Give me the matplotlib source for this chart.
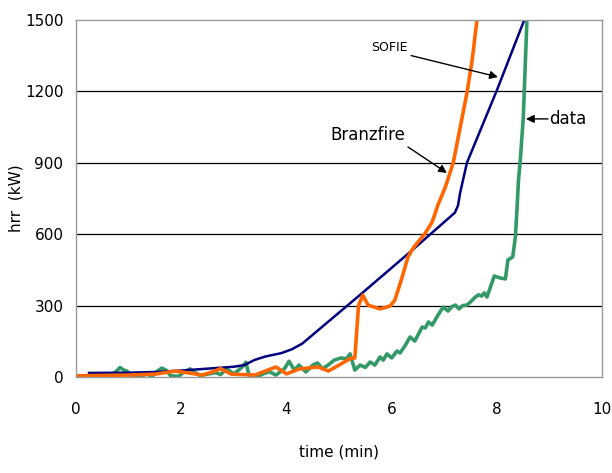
import matplotlib
matplotlib.use("Agg")
import matplotlib.pyplot as plt

plt.rcParams['font.family'] = ['DejaVu Sans']

# measured heat release rate
t_data = [0, 0.3, 0.6, 0.75, 0.84, 0.9, 0.97, 1.05, 1.2, 1.35, 1.45, 1.55, 1.63, 1.72, 1.8,
          1.95, 2.05, 2.17, 2.25, 2.36, 2.5, 2.66, 2.75, 2.86, 3.0, 3.1, 3.17, 3.23, 3.29,
          3.45, 3.58, 3.68, 3.8, 3.96, 4.05, 4.15, 4.24, 4.37, 4.5, 4.59, 4.69, 4.82, 4.91,
          5.04, 5.14, 5.21, 5.3, 5.4, 5.5, 5.59, 5.68, 5.78, 5.84, 5.91, 6.0, 6.1, 6.16,
          6.25, 6.35, 6.44, 6.58, 6.64, 6.7, 6.77, 6.88, 6.98, 7.07, 7.14, 7.21, 7.28, 7.35,
          7.43, 7.52, 7.59, 7.65, 7.71, 7.76, 7.81, 7.88, 7.95, 8.06, 8.16, 8.21, 8.3, 8.35,
          8.38, 8.41, 8.44, 8.5, 8.57]
hrr_data = [0, 2, 5, 20, 40, 30, 25, 5, 2, 12, 3, 25, 37, 28, 5,
            3, 20, 34, 20, 6, 12, 18, 10, 34, 14, 30, 45, 62, 8,
            2, 15, 22, 8, 34, 66, 29, 50, 21, 50, 59, 34, 55, 71,
            80, 76, 97, 29, 50, 40, 63, 50, 84, 71, 97, 80, 109, 101,
            130, 168, 151, 210, 206, 231, 218, 260, 294, 277, 295, 302, 286, 300,
            302, 320, 336, 345, 340, 353, 336, 380, 424, 416, 412, 492, 504, 588,
            702, 828, 900, 1088, 1500]

# SOFIE prediction
t_sofie = [0.25, 1.0, 1.5, 2.0, 2.5, 3.0, 3.2, 3.4, 3.6, 3.9, 4.1, 4.3, 5.4, 6.35, 7.2,
           7.26, 7.3, 7.43, 8.0, 8.52]
hrr_sofie = [17, 18, 21, 27, 35, 43, 50, 72, 86, 100, 116, 140, 345, 525, 690,
             720, 773, 900, 1205, 1500]

# Branzfire prediction
t_branz = [0, 1.0, 1.5, 1.9, 2.2, 2.4, 2.6, 2.75, 2.95, 3.4, 3.6, 3.8, 4.0, 4.25, 4.6,
           4.8, 5.0, 5.2, 5.3, 5.37, 5.45, 5.55, 5.78, 5.97, 6.06, 6.2, 6.31, 6.41, 6.64,
           6.77, 6.88, 7.02, 7.17, 7.43, 7.53, 7.62]
hrr_branz = [5, 8, 12, 25, 15, 8, 22, 35, 12, 8, 25, 42, 13, 34, 42,
             25, 50, 76, 80, 300, 344, 302, 286, 298, 323, 420, 504, 542, 605,
             651, 723, 798, 900, 1193, 1332, 1500]

fig = plt.figure(figsize=(6.12, 4.73), dpi=100)
ax = fig.add_axes([0.124, 0.203, 0.86, 0.755])

ax.plot(t_data, hrr_data, color='#339966', lw=2.6, solid_joinstyle='round')
ax.plot(t_sofie, hrr_sofie, color='#000080', lw=1.8)
ax.plot(t_branz, hrr_branz, color='#FF6600', lw=2.6, solid_joinstyle='round')

ax.set_xlim(0, 10)
ax.set_ylim(0, 1500)
ax.set_xticks([0, 2, 4, 6, 8, 10])
ax.set_yticks([0, 300, 600, 900, 1200, 1500])
ax.tick_params(length=0, labelsize=11)
ax.tick_params(axis='x', pad=18)
ax.tick_params(axis='y', pad=9)
for y in [300, 600, 900, 1200]:
    ax.axhline(y, color='black', lw=0.9, zorder=0)
for s in ax.spines.values():
    s.set_color('#999999')
    s.set_linewidth(1.0)

ax.set_xlabel('time (min)', fontsize=11)
ax.xaxis.set_label_coords(0.5, -0.19)
ax.set_ylabel('hrr  (kW)', fontsize=11)
ax.yaxis.set_label_coords(-0.1, 0.5)

# labels with pointer arrows
arrow = dict(arrowstyle='-|>', color='black', lw=1.0, mutation_scale=12,
             shrinkA=0, shrinkB=0)
ax.text(6.3, 1382, 'SOFIE', fontsize=9, ha='right', va='center')
ax.annotate('', xy=(8.02, 1260), xytext=(6.37, 1350), arrowprops=arrow)
ax.text(6.26, 1017, 'Branzfire', fontsize=12, ha='right', va='center')
ax.annotate('', xy=(7.05, 857), xytext=(6.31, 966), arrowprops=arrow)
ax.text(9.0, 1084, 'data', fontsize=12, ha='left', va='center')
ax.annotate('', xy=(8.55, 1084), xytext=(8.97, 1084), arrowprops=arrow)

fig.savefig('out.png', dpi=100)
